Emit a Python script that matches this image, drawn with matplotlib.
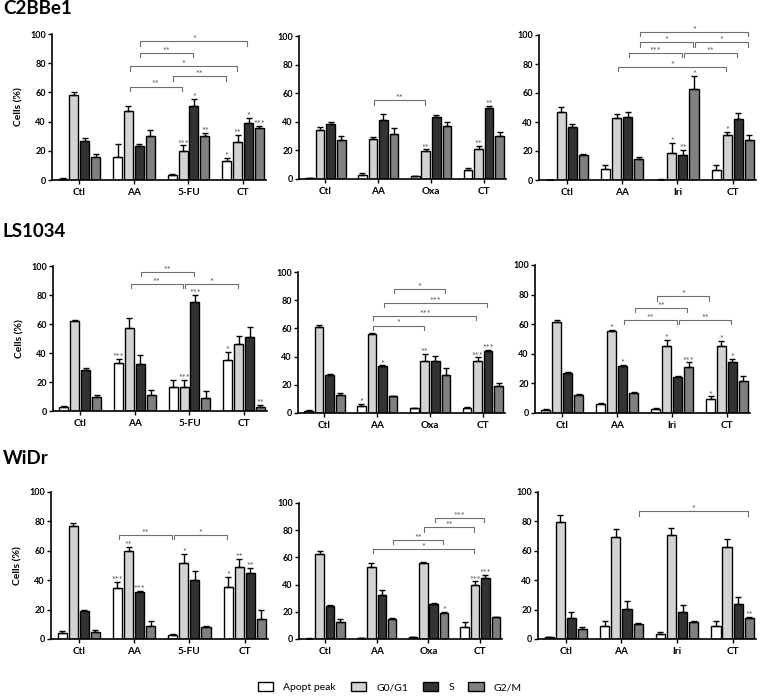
import matplotlib
matplotlib.use('Agg')
import matplotlib.pyplot as plt
from matplotlib.patches import Patch
import numpy as np

plt.rcParams['font.family'] = ['Lato', 'DejaVu Sans']

PHASES = ['Apopt peak', 'G0/G1', 'S', 'G2/M']
PHASE_COLORS = ['white', '#d3d3d3', '#333333', '#808080']

FU_GROUPS = ['Ctl', 'AA', '5-FU', 'CT']
OXA_GROUPS = ['Ctl', 'AA', 'Oxa', 'CT']
IRI_GROUPS = ['Ctl', 'AA', 'Iri', 'CT']

CELL_LINES = ['C2BBe1', 'LS1034', 'WiDr']

# means / errors: one row per group, columns = Apopt, G0/G1, S, G2/M
C2_FU_MEAN = [[1, 58, 27, 15.8], [15.7, 47, 23, 30.4], [3.2, 20, 51, 30], [12.8, 26, 39, 35.5]]
C2_FU_ERR = [[0.4, 2.5, 1.6, 2], [9, 3.5, 2, 4], [0.7, 3.7, 4.7, 2.5], [2.3, 4.8, 3.7, 1.5]]
C2_FU_STARS = [(2, 1, '***'), (2, 2, '*'), (2, 3, '**'), (3, 0, '*'), (3, 1, '**'), (3, 2, '*'), (3, 3, '***')]
C2_FU_BRACKETS = [(1, 2, 3, 2, 95, '*'), (1, 2, 2, 2, 87, '**'), (1, 1, 3, 1, 78, '*'),
                  (2, 0, 3, 0, 71, '**'), (1, 1, 2, 1, 64, '**')]

C2_OXA_MEAN = [[0.5, 34.3, 38.7, 27.3], [3, 28.2, 41.5, 31.2], [1.8, 19.6, 43.6, 37.3], [6.3, 20.7, 49.9, 29.8]]
C2_OXA_ERR = [[0.2, 2, 1, 3], [1.2, 1.4, 3.7, 4.2], [0.3, 1.1, 1.2, 2.8], [1.7, 2.3, 1.4, 3.3]]
C2_OXA_STARS = [(2, 1, '**'), (3, 1, '**'), (3, 2, '**')]
C2_OXA_BRACKETS = [(1, 1, 2, 1, 55, '**')]

C2_IRI_MEAN = [[0.2, 47.1, 36.3, 17], [7.8, 42.5, 43.7, 14.5], [0.3, 18.9, 17.2, 62.5], [7.1, 31, 42, 27.4]]
C2_IRI_ERR = [[0.1, 3.5, 2.6, 1.2], [2.8, 3.2, 3, 1.6], [0.2, 6.8, 3.5, 9.2], [3.2, 1.9, 4, 3.4]]
C2_IRI_STARS = [(2, 1, '*'), (2, 2, '**'), (2, 3, '*'), (3, 1, '*')]
C2_IRI_BRACKETS = [(1, 3, 3, 3, 102, '*'), (1, 3, 2, 3, 95, '*'), (2, 3, 3, 3, 95, '*'),
                   (1, 2, 2, 2, 87.5, '***'), (2, 2, 3, 2, 87.5, '**'), (1, 1, 3, 1, 78, '*')]

LS_FU_MEAN = [[3, 62, 28.4, 10], [33, 57.2, 32.5, 10.8], [16.7, 16.7, 75, 8.7], [35.2, 46.2, 51.3, 3]]
LS_FU_ERR = [[0.7, 0.7, 1.3, 1], [3.2, 6.8, 6.2, 3.8], [4.6, 4.6, 4.9, 5.3], [5.8, 5.5, 6.8, 1]]
LS_FU_STARS = [(1, 0, '***'), (2, 1, '***'), (2, 2, '***'), (3, 0, '*'), (3, 3, '**')]
LS_FU_BRACKETS = [(1, 2, 2, 2, 96, '**'), (1, 1, 2, 1, 87.5, '**'), (2, 1, 3, 1, 87.5, '*')]

LS_OXA_MEAN = [[1.6, 60.8, 26.7, 13], [5.2, 55.9, 33, 11.8], [3.3, 37, 36.6, 27.1], [3.8, 37, 44.3, 18.9]]
LS_OXA_ERR = [[0.3, 1.7, 1.3, 1.4], [1.2, 0.5, 0.7, 0.3], [0.5, 5, 3.7, 4.5], [0.5, 2.4, 0.7, 2.3]]
LS_OXA_STARS = [(1, 0, '*'), (1, 2, '*'), (2, 1, '**'), (3, 1, '***'), (3, 2, '***')]
LS_OXA_BRACKETS = [(1, 3, 2, 3, 88, '*'), (1, 2, 3, 2, 78, '***'), (1, 1, 3, 1, 69, '***'),
                   (1, 1, 2, 1, 62, '*')]

LS_IRI_MEAN = [[2.2, 61.6, 27, 12.1], [5.8, 55.7, 31.7, 13.5], [2.7, 45.4, 24, 31], [9.4, 45, 34.2, 21.6]]
LS_IRI_ERR = [[0.3, 1.5, 0.6, 0.9], [0.9, 0.7, 0.9, 0.4], [0.5, 4, 0.9, 3.2], [1.8, 3.8, 2.2, 3.6]]
LS_IRI_STARS = [(1, 1, '*'), (1, 2, '*'), (2, 1, '*'), (2, 3, '***'), (3, 0, '*'), (3, 1, '*'), (3, 2, '*')]
LS_IRI_BRACKETS = [(2, 0, 3, 0, 79, '*'), (1, 3, 2, 3, 71, '**'), (1, 2, 2, 2, 63, '**'),
                   (2, 2, 3, 2, 63, '**')]

WI_FU_MEAN = [[3.8, 76.9, 18.8, 4.5], [35, 59.7, 31.9, 8.8], [2.7, 52, 40, 7.9], [35.3, 49.1, 44.8, 13.5]]
WI_FU_ERR = [[1.9, 2, 0.7, 1.8], [3.9, 3, 0.7, 3.4], [0.7, 5.9, 6.4, 1.1], [7.2, 5.4, 3.8, 6]]
WI_FU_STARS = [(1, 0, '***'), (1, 1, '**'), (1, 2, '***'), (2, 1, '*'), (3, 0, '*'), (3, 1, '**'), (3, 2, '**')]
WI_FU_BRACKETS = [(1, 0, 2, 0, 71, '**'), (2, 0, 3, 0, 71, '*')]

WI_OXA_MEAN = [[0.3, 62.8, 24.2, 12.7], [0.8, 53, 32.5, 14.7], [1.3, 56, 25.4, 19.1], [9, 39.4, 45, 15.9]]
WI_OXA_ERR = [[0.1, 2, 0.5, 1.7], [0.3, 3, 3.4, 0.4], [0.5, 0.5, 1.3, 0.5], [3.7, 2.9, 2.2, 0.5]]
WI_OXA_STARS = [(2, 3, '*'), (3, 1, '***'), (3, 2, '***')]
WI_OXA_BRACKETS = [(2, 2, 3, 2, 89, '***'), (2, 1, 3, 1, 82, '**'), (1, 3, 2, 3, 73, '**'),
                   (1, 1, 3, 1, 66, '*')]

WI_IRI_MEAN = [[1.1, 79.6, 14, 7], [9, 69.7, 20.4, 10.2], [3.2, 70.6, 18.6, 11.3], [9, 62.7, 23.5, 14.5]]
WI_IRI_ERR = [[0.3, 4.6, 4.1, 1.1], [3.2, 5, 5.4, 0.5], [1.3, 5, 4.7, 0.9], [3.2, 5.6, 5, 0.7]]
WI_IRI_STARS = [(3, 3, '**')]
WI_IRI_BRACKETS = [(1, 3, 3, 3, 87, '*')]

PANELS = [
    [(FU_GROUPS, C2_FU_MEAN, C2_FU_ERR, C2_FU_STARS, C2_FU_BRACKETS),
     (OXA_GROUPS, C2_OXA_MEAN, C2_OXA_ERR, C2_OXA_STARS, C2_OXA_BRACKETS),
     (IRI_GROUPS, C2_IRI_MEAN, C2_IRI_ERR, C2_IRI_STARS, C2_IRI_BRACKETS)],
    [(FU_GROUPS, LS_FU_MEAN, LS_FU_ERR, LS_FU_STARS, LS_FU_BRACKETS),
     (OXA_GROUPS, LS_OXA_MEAN, LS_OXA_ERR, LS_OXA_STARS, LS_OXA_BRACKETS),
     (IRI_GROUPS, LS_IRI_MEAN, LS_IRI_ERR, LS_IRI_STARS, LS_IRI_BRACKETS)],
    [(FU_GROUPS, WI_FU_MEAN, WI_FU_ERR, WI_FU_STARS, WI_FU_BRACKETS),
     (OXA_GROUPS, WI_OXA_MEAN, WI_OXA_ERR, WI_OXA_STARS, WI_OXA_BRACKETS),
     (IRI_GROUPS, WI_IRI_MEAN, WI_IRI_ERR, WI_IRI_STARS, WI_IRI_BRACKETS)],
]

# axes boxes in pixels: left, top (y=100), right, bottom (y=0)
BOXES = [
    [(52, 34, 266, 180), (299, 36, 506, 179), (539, 35, 756, 180)],
    [(53, 266, 267, 411), (298, 272, 505, 413), (535, 265, 750, 413)],
    [(51, 492, 268, 639), (299, 503, 502, 639), (538, 492, 756, 639)],
]
TITLE_Y = [9, 232, 458]

W, H = 760, 697
fig = plt.figure(figsize=(W / 100, H / 100), dpi=100)

STAR_COLOR = '#555555'
BRACKET_COLOR = '#6e6e6e'


def add_axes_px(left, top, right, bottom):
    return fig.add_axes([left / W, 1 - bottom / H, (right - left) / W, (bottom - top) / H])


def draw_panel(ax, groups, means, errs, stars, brackets, ylabel):
    means = np.array(means, dtype=float)
    errs = np.array(errs, dtype=float)
    x = np.arange(len(groups))
    offsets = (np.arange(4) - 1.5) * 0.2
    for p in range(4):
        xs = x + offsets[p]
        ax.bar(xs, means[:, p], width=0.165, color=PHASE_COLORS[p],
               edgecolor='black', linewidth=1.0, zorder=2)
        ax.errorbar(xs, means[:, p], yerr=[np.zeros(len(x)), errs[:, p]], fmt='none',
                    ecolor='black', elinewidth=1.0, capsize=2, capthick=1.0, zorder=3)

    for g, p, s in stars:
        top = means[g, p] + errs[g, p]
        ax.text(x[g] + offsets[p], top - 0.8, s, ha='center', va='baseline',
                fontsize=6.5, color=STAR_COLOR, zorder=4)

    for g1, p1, g2, p2, y, s in brackets:
        x1 = x[g1] + offsets[p1] + 0.02
        x2 = x[g2] + offsets[p2] - 0.02
        ax.plot([x1, x1, x2, x2], [y - 3, y, y, y - 3], color=BRACKET_COLOR,
                lw=0.8, clip_on=False, zorder=4)
        ax.text((x1 + x2) / 2, y - 0.6, s, ha='center', va='baseline',
                fontsize=6.5, color=STAR_COLOR, clip_on=False)

    ax.set_xlim(-0.5, 3.42)
    ax.set_ylim(0, 100)
    ax.set_yticks(range(0, 101, 20))
    ax.set_xticks(x)
    ax.set_xticklabels(groups)
    for side in ['top', 'right']:
        ax.spines[side].set_visible(False)
    for side in ['left', 'bottom']:
        ax.spines[side].set_linewidth(1.2)
    ax.tick_params(axis='y', length=3, width=1.0, labelsize=6.5, pad=1.5)
    ax.tick_params(axis='x', length=3, width=1.0, labelsize=7.2, pad=2.5)
    for lab in ax.get_xticklabels() + ax.get_yticklabels():
        lab.set_fontweight('bold')
    if ylabel:
        ax.set_ylabel('Cells (%)', fontsize=7.5, fontweight='bold', labelpad=5)


for r in range(3):
    fig.text(3 / W, 1 - TITLE_Y[r] / H, CELL_LINES[r], fontsize=13.5, fontweight='bold',
             ha='left', va='center')
    for c in range(3):
        ax = add_axes_px(*BOXES[r][c])
        groups, means, errs, stars, brackets = PANELS[r][c]
        draw_panel(ax, groups, means, errs, stars, brackets, ylabel=(c == 0))

handles = [Patch(facecolor=col, edgecolor='black', linewidth=1.0) for col in PHASE_COLORS]
fig.legend(handles, PHASES, loc='center', bbox_to_anchor=(390 / W, 1 - 687 / H), ncol=4,
           frameon=False, fontsize=7.5, handlelength=1.45, handleheight=0.95,
           handletextpad=1.0, columnspacing=1.4)

fig.savefig('out.png', dpi=100)
